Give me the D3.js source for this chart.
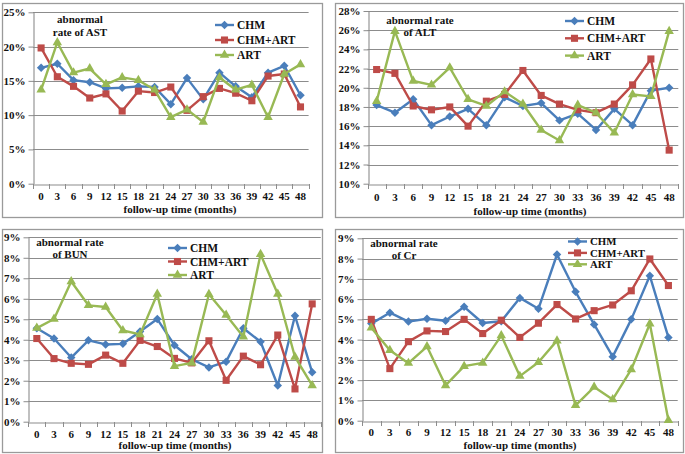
<!DOCTYPE html>
<html>
<head>
<meta charset="utf-8">
<script src="https://cdn.jsdelivr.net/npm/d3@7"></script>
<style>
  html, body { margin: 0; padding: 0; background: #fff; }
  svg { display: block; }
  text { font-family: "Liberation Serif", "Times New Roman", serif; font-weight: bold; fill: #111; }
</style>
</head>
<body>
<svg id="chart" width="685" height="454"></svg>
<script>
// ---------- DATA ----------
const months = [0, 3, 6, 9, 12, 15, 18, 21, 24, 27, 30, 33, 36, 39, 42, 45, 48];
const seriesNames = ["CHM", "CHM+ART", "ART"];

// AST abnormal rate (%)
const astCHM    = [16.9, 17.5, 15.1, 14.8, 13.9, 14.0, 14.2, 14.1, 11.6, 15.4, 12.3, 16.2, 14.2, 12.6, 16.2, 17.2, 12.9];
const astCHMART = [19.8, 15.6, 14.2, 12.5, 13.1, 10.6, 13.5, 13.3, 14.1, 10.7, 12.7, 13.9, 13.2, 12.1, 15.7, 16.0, 11.2];
const astART    = [13.7, 20.6, 16.2, 16.8, 14.5, 15.5, 15.1, 13.7,  9.7, 10.8,  9.0, 15.5, 13.7, 14.4,  9.7, 16.0, 17.4];

// ALT abnormal rate (%)
const altCHM    = [18.2, 17.4, 18.8, 16.1, 17.0, 17.8, 16.1, 19.0, 18.1, 18.4, 16.6, 17.3, 15.6, 17.8, 16.1, 19.7, 20.0];
const altCHMART = [21.9, 21.5, 18.1, 17.7, 18.0, 16.0, 18.6, 19.3, 21.8, 19.2, 18.3, 17.7, 17.4, 18.3, 20.3, 23.0, 13.5];
const altART    = [18.6, 25.9, 20.7, 20.3, 22.1, 18.8, 18.1, 19.6, 18.3, 15.6, 14.5, 18.2, 17.4, 15.3, 19.3, 19.1, 25.9];

// BUN abnormal rate (%)
const bunCHM    = [4.56, 4.06, 3.13, 3.97, 3.77, 3.80, 4.40, 5.01, 3.73, 3.05, 2.65, 2.93, 4.56, 3.90, 1.77, 5.17, 2.41];
const bunCHMART = [4.06, 3.08, 2.85, 2.80, 3.25, 2.85, 3.97, 3.67, 3.09, 2.87, 3.95, 2.02, 3.20, 2.78, 4.23, 1.60, 5.75];
const bunART    = [4.57, 5.01, 6.84, 5.68, 5.60, 4.45, 4.26, 6.23, 2.71, 2.87, 6.22, 5.21, 4.15, 8.17, 6.23, 3.16, 1.77];

// Cr abnormal rate (%)
const crCHM    = [4.79, 5.33, 4.89, 5.03, 4.93, 5.62, 4.82, 4.91, 6.06, 5.52, 8.20, 6.36, 4.75, 3.16, 5.00, 7.15, 4.11];
const crCHMART = [5.00, 2.57, 3.90, 4.43, 4.40, 5.00, 4.30, 4.96, 4.11, 4.81, 5.73, 5.02, 5.43, 5.71, 6.41, 7.98, 6.67];
const crART    = [4.59, 3.48, 2.84, 3.66, 1.74, 2.69, 2.85, 4.20, 2.20, 2.88, 3.95, 0.76, 1.66, 1.05, 2.53, 4.78, 0.02];

// Y tick values (%)
const astTicks = [0, 5, 10, 15, 20, 25];
const altTicks = [10, 12, 14, 16, 18, 20, 22, 24, 26, 28];
const bunTicks = [0, 1, 2, 3, 4, 5, 6, 7, 8, 9];
const crTicks  = [0, 1, 2, 3, 4, 5, 6, 7, 8, 9];

const xTitle = "follow-up time (months)";

// ---------- STYLE ----------
const colors  = { "CHM": "#4A7EBB", "CHM+ART": "#BE4B48", "ART": "#98B954" };
const symbols = { "CHM": d3.symbolDiamond2, "CHM+ART": d3.symbolSquare2, "ART": d3.symbolTriangle2 };
const symSize = { "CHM": 46, "CHM+ART": 64, "ART": 64 };

// ---------- PANELS (layout) ----------
const panels = [
  { title: ["abnormal", "rate of AST"], series: [astCHM, astCHMART, astART], ticks: astTicks,
    frame: [2, 3, 322, 217], plot: { x0: 33, x1: 308.6, yTop: 12.3, yBot: 183.7 },
    titlePos: [80, 19, 13], legend: { x: 215, y: 25, dy: 15, fs: 11.5 }, xLabY: 196, xTitleY: 209, xTitleX: 180 },
  { title: ["abnormal rate", "of ALT"], series: [altCHM, altCHMART, altART], ticks: altTicks,
    frame: [335, 3, 683, 217], plot: { x0: 367.5, x1: 678.3, yTop: 11, yBot: 183.7 },
    titlePos: [420, 20, 12.5], legend: { x: 565, y: 21, dy: 17.3, fs: 11.5 }, xLabY: 197, xTitleY: 211, xTitleX: 530 },
  { title: ["abnormal rate", "of BUN"], series: [bunCHM, bunCHMART, bunART], ticks: bunTicks,
    frame: [2, 229, 322, 452], plot: { x0: 28.2, x1: 320.8, yTop: 237.3, yBot: 421.7 },
    titlePos: [70, 242, 12], legend: { x: 168, y: 248, dy: 13.5, fs: 11.5 }, xLabY: 434, xTitleY: 445, xTitleX: 175 },
  { title: ["abnormal rate", "of Cr"], series: [crCHM, crCHMART, crART], ticks: crTicks,
    frame: [335, 229, 683, 452], plot: { x0: 362, x1: 677.7, yTop: 238.3, yBot: 420.7 },
    titlePos: [404, 243, 12.5], legend: { x: 568, y: 241.5, dy: 11.4, fs: 10.8 }, xLabY: 432, xTitleY: 445, xTitleX: 520 }
];

const svg = d3.select("#chart");

panels.forEach(p => {
  const g = svg.append("g");
  const [fx0, fy0, fx1, fy1] = p.frame;
  g.append("rect").attr("x", fx0 + 0.5).attr("y", fy0 + 0.5)
    .attr("width", fx1 - fx0).attr("height", fy1 - fy0)
    .attr("fill", "#fff").attr("stroke", "#9a9a9a").attr("stroke-width", 1.3);

  const x = d3.scaleBand().domain(months).range([p.plot.x0, p.plot.x1]).padding(0);
  const y = d3.scaleLinear().domain([p.ticks[0], p.ticks[p.ticks.length - 1]]).range([p.plot.yBot, p.plot.yTop]);
  const cx = m => x(m) + x.bandwidth() / 2;

  // gridlines
  g.append("g").selectAll("line").data(p.ticks.slice(1)).join("line")
    .attr("x1", p.plot.x0).attr("x2", p.plot.x1)
    .attr("y1", d => Math.round(y(d)) + 0.5).attr("y2", d => Math.round(y(d)) + 0.5)
    .attr("stroke", "#8c8c8c").attr("stroke-width", 1.1);

  // y axis
  const yAxis = d3.axisLeft(y).tickValues(p.ticks).tickFormat(d => d + "%").tickSize(5).tickPadding(3).tickSizeOuter(0);
  const ya = g.append("g").attr("transform", `translate(${Math.round(p.plot.x0) + 0.5},0)`).call(yAxis);
  ya.select(".domain").attr("stroke", "#8c8c8c").attr("stroke-width", 1.1);
  ya.selectAll(".tick line").attr("stroke", "#8c8c8c");
  ya.selectAll("text").attr("font-size", 11).style("font-family", "Liberation Serif").style("font-weight", "bold").attr("fill", "#111");

  // x axis
  const xAxis = d3.axisBottom(x).tickSize(0).tickPadding(0).tickSizeOuter(0);
  const xa = g.append("g").attr("transform", `translate(0,${Math.round(p.plot.yBot) + 0.5})`).call(xAxis);
  xa.select(".domain").attr("stroke", "#8c8c8c").attr("stroke-width", 1.1);
  xa.selectAll("text").attr("y", p.xLabY - Math.round(p.plot.yBot)).attr("dy", "0.35em")
    .attr("font-size", 11).style("font-family", "Liberation Serif").style("font-weight", "bold").attr("fill", "#111");
  // category boundary tick marks
  const bounds = months.map(m => x(m)).concat([x(months[months.length - 1]) + x.bandwidth()]);
  g.append("g").selectAll("line").data(bounds).join("line")
    .attr("x1", d => Math.round(d) + 0.5).attr("x2", d => Math.round(d) + 0.5)
    .attr("y1", Math.round(p.plot.yBot)).attr("y2", Math.round(p.plot.yBot) + 5)
    .attr("stroke", "#8c8c8c").attr("stroke-width", 1);

  // x title
  g.append("text").attr("x", p.xTitleX).attr("y", p.xTitleY).attr("dy", "0.35em")
    .attr("text-anchor", "middle").attr("font-size", 11).text(xTitle);

  // panel title
  p.title.forEach((t, i) => {
    g.append("text").attr("x", p.titlePos[0]).attr("y", p.titlePos[1] + i * p.titlePos[2]).attr("dy", "0.35em")
      .attr("text-anchor", "middle").attr("font-size", 11).text(t);
  });

  // series
  const line = d3.line().x((d, i) => cx(months[i])).y(d => y(d));
  seriesNames.forEach((name, si) => {
    const vals = p.series[si];
    g.append("path").datum(vals).attr("d", line)
      .attr("fill", "none").attr("stroke", colors[name]).attr("stroke-width", 2.4).attr("stroke-linejoin", "round");
    g.append("g").selectAll("path").data(vals).join("path")
      .attr("transform", (d, i) => `translate(${cx(months[i])},${y(d)})`)
      .attr("d", d3.symbol().type(symbols[name]).size(symSize[name]))
      .attr("fill", colors[name]).attr("stroke", "none");
  });

  // legend
  seriesNames.forEach((name, si) => {
    const ly = p.legend.y + si * p.legend.dy;
    const lx = p.legend.x;
    g.append("line").attr("x1", lx).attr("x2", lx + 19).attr("y1", ly).attr("y2", ly)
      .attr("stroke", colors[name]).attr("stroke-width", 2.4);
    g.append("path").attr("transform", `translate(${lx + 9.5},${ly})`)
      .attr("d", d3.symbol().type(symbols[name]).size(symSize[name])).attr("fill", colors[name]);
    g.append("text").attr("x", lx + 22).attr("y", ly).attr("dy", "0.35em")
      .attr("font-size", p.legend.fs).text(name);
  });
});
</script>
</body>
</html>
